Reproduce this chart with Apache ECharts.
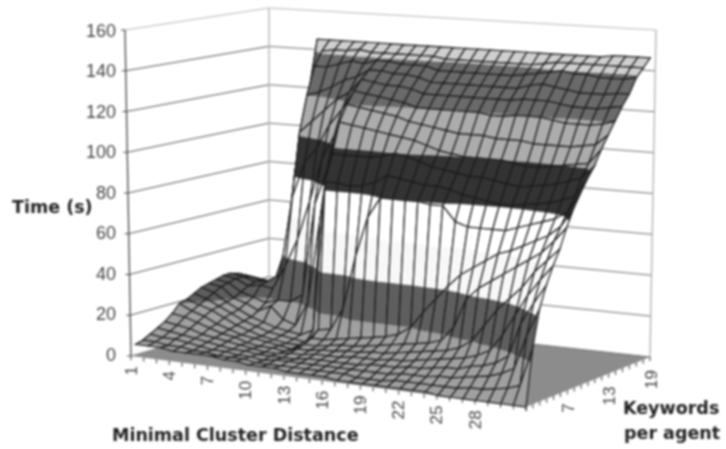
<!DOCTYPE html>
<html><head><meta charset="utf-8">
<style>html,body{margin:0;padding:0;background:#fff}#c{width:726px;height:449px;filter:blur(0.8px)}</style>
<script src="https://cdn.jsdelivr.net/npm/echarts@6/dist/echarts.min.js"></script>
</head><body><div id="c"></div>
<script>
const distances = ['1','2','3','4','5','6','7','8','9','10','11','12','13','14','15','16','17','18','19','20','21','22','23','24','25','26','27','28','29','30','31','32'];
const keywords = ['1','2','3','4','5','6','7','8','9','10','11','12','13','14','15','16','17','18','19'];
const timeTicks = [0,20,40,60,80,100,120,140,160];
const distanceLabels = ['1','4','7','10','13','16','19','22','25','28'];
const keywordLabels = ['7','13','19'];
// time (s) for each Minimal Cluster Distance, one value per keywords-per-agent 1..19
const timeByDistance = [
[6,7,9,11,13,16,20,21,23,25,26,27,28,28,27,25,23,20,17],
[6,7,8,10,12,15,17,19,21,23,25,26,27,27,26,24,22,19,16],
[6,6,8,9,11,13,15,17,18,19,20,22,24,25,24,23,21,18,15],
[5,6,7,8,9,11,12,14,15,16,18,20,25,26,26,24,22,20,18],
[5,5,6,7,8,9,10,11,12,13,15,18,24,30,45,80,102,122,146],
[5,5,5,6,7,8,8,9,10,11,18,20,36,70,102,120,134,141,146],
[5,4,5,5,6,6,7,7,8,9,12,20,50,88,108,122,134,142,146],
[4,4,4,5,5,5,6,6,7,8,10,24,70,96,114,125,136,142,146],
[4,4,4,4,4,5,5,5,6,7,22,70,92,108,120,129,138,143,146],
[3,3,3,4,4,4,4,5,5,10,64,88,104,116,124,131,137,142,146],
[3,3,4,4,5,6,7,9,12,84,97,112,120,126,131,135,139,142,146],
[3,3,4,4,5,6,7,9,13,84,97,111,119,125,130,135,139,142,146],
[2,3,4,5,6,7,8,10,24,83,97,110,118,124,129,134,138,142,146],
[2,3,4,5,6,7,9,11,50,84,97,109,117,123,129,134,138,142,146],
[2,3,4,5,6,8,9,12,70,86,98,108,116,122,128,133,138,142,146],
[2,3,4,5,7,8,10,13,80,90,100,107,114,120,126,131,136,141,146],
[1,3,4,5,7,9,11,14,80,89,99,106,113,120,126,131,136,141,146],
[1,2,4,6,7,9,12,16,80,88,97,104,112,120,126,131,136,141,146],
[1,2,4,6,8,10,13,20,80,87,95,102,111,120,126,131,136,141,146],
[1,2,4,6,8,11,14,28,79,87,94,101,110,120,126,131,136,141,146],
[1,3,5,7,9,12,15,35,79,86,93,100,110,120,126,131,136,141,146],
[1,3,5,7,10,13,17,42,72,84,92,100,110,119,126,131,136,141,146],
[1,3,5,8,11,14,24,48,70,83,92,100,109,119,126,131,137,141,146],
[1,3,6,9,12,16,38,52,70,82,91,100,109,120,127,133,138,142,146],
[0,3,6,9,13,20,44,56,70,81,90,99,109,120,127,134,139,143,146],
[0,3,7,11,15,28,48,60,70,81,89,98,108,120,127,133,140,143,146],
[0,4,8,12,18,36,52,62,72,82,90,98,108,119,126,132,139,143,146],
[0,4,9,14,26,42,56,65,74,83,91,99,108,118,125,131,139,143,146],
[0,5,11,18,36,48,60,68,76,84,92,100,108,118,125,131,138,143,147],
[0,6,14,34,46,56,64,71,78,86,94,101,109,118,125,131,138,143,147],
[0,8,30,44,54,62,70,76,82,88,96,102,110,119,126,132,138,143,147],
[0,26,43,53,61,68,77,85,91,97,102,109,115,121,127,132,139,143,147]
];
const bands = [
 {lo:0,hi:20,color:'#a0a0a0'},{lo:20,hi:40,color:'#5e5e5e'},{lo:40,hi:60,color:'#f8f8f8'},
 {lo:60,hi:80,color:'#ffffff'},{lo:80,hi:100,color:'#333333'},{lo:100,hi:120,color:'#acacac'},
 {lo:120,hi:140,color:'#6a6a6a'},{lo:140,hi:160,color:'#cfcfcf'}
];
// Perspective frame of the box, in page pixels
const A=[131,356],B=[526,407],C=[650,357],D=[269,315];
const lift={A:[-6,326],B:[0,345],C:[6,327],D:[0,307]};
const surfaceInsetU=0.012, surfaceDepth=0.96;
function bil(a,b,c,d,u,v){return a*(1-u)*(1-v)+b*u*(1-v)+c*u*v+d*(1-u)*v;}
function project(u,v,t){
  return [bil(A[0],B[0],C[0],D[0],u,v)+bil(lift.A[0],lift.B[0],lift.C[0],lift.D[0],u,v)*t,
          bil(A[1],B[1],C[1],D[1],u,v)-bil(lift.A[1],lift.B[1],lift.C[1],lift.D[1],u,v)*t];
}
const nI=distances.length-1, nJ=keywords.length-1, zMax=timeTicks[timeTicks.length-1];
function fracU(api,i){const a=api.coord([0,0])[0],b=api.coord([nI,0])[0];return (api.coord([i,0])[0]-a)/(b-a);}
function fracT(api,z){const a=api.coord([0,0])[1],b=api.coord([0,zMax])[1];return (api.coord([0,z])[1]-a)/(b-a);}
function clip(poly,lo,hi){
  function cut(p,keep,val){const o=[];for(let k=0;k<p.length;k++){const a=p[k],b=p[(k+1)%p.length];const ka=keep(a.z),kb=keep(b.z);
    if(ka)o.push(a);
    if(ka!==kb){const s=(val-a.z)/(b.z-a.z);o.push({x:a.x+(b.x-a.x)*s,y:a.y+(b.y-a.y)*s,z:val});}}return o;}
  let r=cut(poly,z=>z>=lo,lo); if(r.length) r=cut(r,z=>z<=hi,hi); return r;
}
// Painter's order: far corner first
const quads=[];
for(let j=nJ-1;j>=0;j--)for(let i=0;i<nI;i++)quads.push([i,j]);
function renderQuad(params,api){
  const i=api.value(0),j=api.value(1);
  const corners=[[i,j],[i+1,j],[i+1,j+1],[i,j+1]].map(([a,b])=>{
    const z=timeByDistance[a][b];
    const p=project(surfaceInsetU+(1-surfaceInsetU)*fracU(api,a),surfaceDepth*b/nJ,fracT(api,z));
    return {x:p[0],y:p[1],z:z};});
  const children=[];
  bands.forEach(b=>{const r=clip(corners,b.lo,b.hi);if(r.length>2)children.push({type:'polygon',shape:{points:r.map(q=>[q.x,q.y])},style:{fill:b.color,stroke:b.color,lineWidth:0.4}});});
  children.push({type:'polygon',shape:{points:corners.map(q=>[q.x,q.y])},style:{fill:'none',stroke:'#1a1a1a',lineWidth:1.2}});
  return {type:'group',children};
}
function line(p,q,color,w){return {type:'line',shape:{x1:p[0],y1:p[1],x2:q[0],y2:q[1]},style:{stroke:color,lineWidth:w||1,fill:'none'}};}
const tickFont='17px "Liberation Sans"';
function renderFrame(params,api){
  const kids=[];
  kids.push({type:'polygon',shape:{points:[A,B,C,D]},style:{fill:'#8c8c8c',stroke:'none'}});
  timeTicks.forEach(z=>{
    const t=fracT(api,z); const a=project(0,0,t),d=project(0,1,t),c=project(1,1,t);
    const col=z===zMax?'#b5b5b5':(z===0?'#8c8c8c':'#555555');
    kids.push(line(a,d,col,1)); kids.push(line(d,c,z===zMax?'#b5b5b5':'#6e6e6e',1));
    kids.push(line([a[0]-4,a[1]],a,'#444',1));
  });
  kids.push(line(project(0,1,0),project(0,1,1),'#b0b0b0',1.3));
  kids.push(line(project(1,1,0),project(1,1,1),'#b0b0b0',1.3));
  kids.push(line(project(0,0,0),project(0,0,1),'#444444',1.3));
  distances.forEach((d,i)=>{const p=project(fracU(api,i),0,0);kids.push(line(p,[p[0],p[1]+4],'#333',1));
    if(distanceLabels.includes(d))kids.push({type:'text',x:p[0]+1,y:p[1]+10,rotation:Math.PI/2,style:{text:d,fill:'#444',font:tickFont,align:'right',verticalAlign:'middle'}});});
  keywords.forEach((d,j)=>{const p=project(1,j/nJ,0);kids.push(line(p,[p[0],p[1]+4],'#333',1));
    if(keywordLabels.includes(d))kids.push({type:'text',x:p[0]+2,y:p[1]+13,rotation:Math.PI/2,style:{text:d,fill:'#444',font:tickFont,align:'right',verticalAlign:'middle'}});});
  return {type:'group',children:kids};
}
const boldStyle={font:'bold 17.5px "DejaVu Sans"',fill:'#222'};
const chart=echarts.init(document.getElementById('c'),null,{renderer:'canvas'});
chart.setOption({
  animation:false,
  grid:{left:131,top:32,width:395,height:324},
  xAxis:{type:'category',data:distances,boundaryGap:false,show:false},
  yAxis:{type:'value',min:0,max:zMax,interval:20,axisLine:{show:false},axisTick:{show:false},splitLine:{show:false},
    axisLabel:{margin:15,color:'#444',fontFamily:'Liberation Sans',fontSize:18}},
  series:[
    {type:'custom',renderItem:renderFrame,data:[[0,0]],silent:true,clip:false,z:1},
    {type:'custom',renderItem:renderQuad,data:quads,encode:{x:0,y:1},silent:true,clip:false,progressive:0,z:2}
  ],
  graphic:[
    {type:'text',left:12,top:199,style:{text:'Time (s)',...boldStyle}},
    {type:'text',left:112,top:427,style:{text:'Minimal Cluster Distance',...boldStyle}},
    {type:'text',left:623,top:400,style:{text:'Keywords',...boldStyle}},
    {type:'text',left:624,top:425,style:{text:'per agent',...boldStyle}}
  ]
});
</script></body></html>
